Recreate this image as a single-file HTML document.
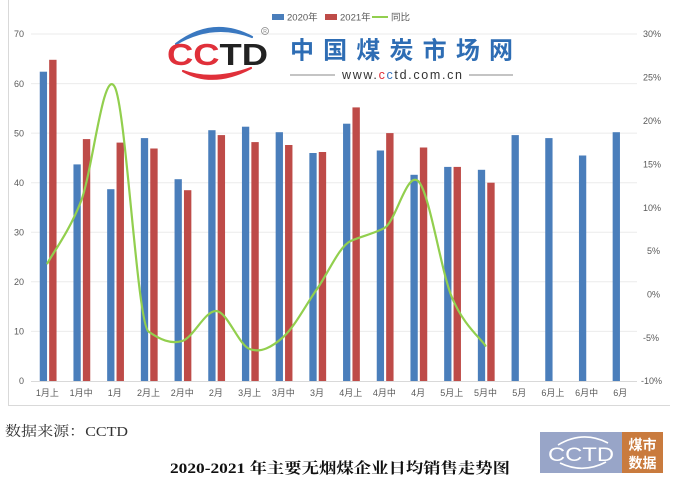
<!DOCTYPE html>
<html><head><meta charset="utf-8"><style>
html,body{margin:0;padding:0;background:#fff;}
svg{display:block;}
</style></head><body>
<svg width="676" height="482" viewBox="0 0 676 482" xmlns="http://www.w3.org/2000/svg">
<rect x="0" y="0" width="676" height="482" fill="#fff"/>
<!-- frame -->
<line x1="8.5" y1="0" x2="8.5" y2="405.5" stroke="#D9D9D9" stroke-width="1"/>
<line x1="8" y1="405.5" x2="670" y2="405.5" stroke="#D9D9D9" stroke-width="1"/>
<!-- grid -->
<g stroke="#EBEBEB" stroke-width="1">
<line x1="31" y1="34" x2="637" y2="34"/>
<line x1="31" y1="83.6" x2="637" y2="83.6"/>
<line x1="31" y1="133.1" x2="637" y2="133.1"/>
<line x1="31" y1="182.7" x2="637" y2="182.7"/>
<line x1="31" y1="232.3" x2="637" y2="232.3"/>
<line x1="31" y1="281.8" x2="637" y2="281.8"/>
<line x1="31" y1="331.4" x2="637" y2="331.4"/>
</g>
<line x1="31" y1="381.5" x2="637" y2="381.5" stroke="#D9D9D9" stroke-width="1"/>
<!-- left axis labels -->
<g font-family="Liberation Sans, sans-serif" font-size="9" fill="#595959" text-anchor="end">
<text x="24" y="37.2">70</text>
<text x="24" y="86.8">60</text>
<text x="24" y="136.3">50</text>
<text x="24" y="185.9">40</text>
<text x="24" y="235.5">30</text>
<text x="24" y="285">20</text>
<text x="24" y="334.6">10</text>
<text x="24" y="384.2">0</text>
</g>
<!-- right axis labels -->
<g font-family="Liberation Sans, sans-serif" font-size="9" fill="#595959" text-anchor="start">
<text x="643" y="37.2">30%</text>
<text x="643" y="80.6">25%</text>
<text x="643" y="124">20%</text>
<text x="643" y="167.4">15%</text>
<text x="643" y="210.8">10%</text>
<text x="647" y="254.2">5%</text>
<text x="647" y="297.6">0%</text>
<text x="643" y="341">-5%</text>
<text x="641" y="384.2">-10%</text>
</g>
<!-- bars 2020 -->
<g fill="#4A7EBB">
<rect x="39.75" y="71.7" width="7.3" height="309.3"/>
<rect x="73.45" y="164.4" width="7.3" height="216.6"/>
<rect x="107.15" y="189.2" width="7.3" height="191.8"/>
<rect x="140.85" y="138.1" width="7.3" height="242.9"/>
<rect x="174.55" y="179.2" width="7.3" height="201.8"/>
<rect x="208.25" y="130.2" width="7.3" height="250.8"/>
<rect x="241.95" y="126.7" width="7.3" height="254.3"/>
<rect x="275.65" y="132.2" width="7.3" height="248.8"/>
<rect x="309.35" y="153" width="7.3" height="228"/>
<rect x="343.05" y="123.7" width="7.3" height="257.3"/>
<rect x="376.75" y="150.5" width="7.3" height="230.5"/>
<rect x="410.45" y="174.8" width="7.3" height="206.2"/>
<rect x="444.15" y="166.9" width="7.3" height="214.1"/>
<rect x="477.85" y="169.8" width="7.3" height="211.2"/>
<rect x="511.55" y="135.1" width="7.3" height="245.9"/>
<rect x="545.25" y="138.1" width="7.3" height="242.9"/>
<rect x="578.95" y="155.5" width="7.3" height="225.5"/>
<rect x="612.65" y="132.2" width="7.3" height="248.8"/>
</g>
<!-- bars 2021 -->
<g fill="#BE4B48">
<rect x="49.15" y="59.8" width="7.4" height="321.2"/>
<rect x="82.85" y="139.1" width="7.4" height="241.9"/>
<rect x="116.55" y="142.6" width="7.4" height="238.4"/>
<rect x="150.25" y="148.5" width="7.4" height="232.5"/>
<rect x="183.95" y="190.2" width="7.4" height="190.8"/>
<rect x="217.65" y="135.1" width="7.4" height="245.9"/>
<rect x="251.35" y="142.1" width="7.4" height="238.9"/>
<rect x="285.05" y="145" width="7.4" height="236"/>
<rect x="318.75" y="152" width="7.4" height="229"/>
<rect x="352.45" y="107.4" width="7.4" height="273.6"/>
<rect x="386.15" y="133.1" width="7.4" height="247.9"/>
<rect x="419.85" y="147.5" width="7.4" height="233.5"/>
<rect x="453.55" y="166.9" width="7.4" height="214.1"/>
<rect x="487.25" y="182.7" width="7.4" height="198.3"/>
</g>
<!-- line -->
<path fill="none" stroke="#92CF4E" stroke-width="2.2" stroke-linejoin="round" stroke-linecap="round" d="
M47.4,263.3
C53,252.9 69.87,230.38 81.1,201
C92.33,171.62 103.57,65.25 114.8,87
C126.03,108.75 137.27,323.5 148.5,331.5
C159.73,339.5 170.97,344.42 182.2,341
C193.43,337.58 204.67,311 215.9,311
C227.13,311 238.37,344.67 249.6,349
C260.83,353.33 272.07,347 283.3,337
C294.53,327 305.77,305 317,289
C328.23,273 339.47,246 350.7,241
C361.93,236 373.17,234 384.4,228
C395.63,222 406.87,171 418.1,181
C429.33,191 440.57,269.55 451.8,297
C463.03,324.45 479.88,337.58 485.5,345.7"/>
<!-- category labels -->
<g font-family="Liberation Sans, 'Noto Sans CJK SC', sans-serif" font-size="9" fill="#595959" text-anchor="middle">
<text x="47.4" y="396">1月上</text>
<text x="81.1" y="396">1月中</text>
<text x="114.8" y="396">1月</text>
<text x="148.5" y="396">2月上</text>
<text x="182.2" y="396">2月中</text>
<text x="215.9" y="396">2月</text>
<text x="249.6" y="396">3月上</text>
<text x="283.3" y="396">3月中</text>
<text x="317" y="396">3月</text>
<text x="350.7" y="396">4月上</text>
<text x="384.4" y="396">4月中</text>
<text x="418.1" y="396">4月</text>
<text x="451.8" y="396">5月上</text>
<text x="485.5" y="396">5月中</text>
<text x="519.2" y="396">5月</text>
<text x="552.9" y="396">6月上</text>
<text x="586.6" y="396">6月中</text>
<text x="620.3" y="396">6月</text>
</g>
<!-- legend -->
<rect x="272" y="14" width="12" height="6" fill="#4A7EBB"/>
<text x="287" y="20.5" font-family="Liberation Sans, 'Noto Sans CJK SC', sans-serif" font-size="9.5" fill="#595959">2020年</text>
<rect x="325" y="14" width="12" height="6" fill="#BE4B48"/>
<text x="340" y="20.5" font-family="Liberation Sans, 'Noto Sans CJK SC', sans-serif" font-size="9.5" fill="#595959">2021年</text>
<line x1="372" y1="17" x2="388" y2="17" stroke="#92CF4E" stroke-width="2"/>
<text x="391" y="20.5" font-family="Liberation Sans, 'Noto Sans CJK SC', sans-serif" font-size="9.5" fill="#595959">同比</text>
<!-- CCTD logo -->
<path d="M176,44 Q213,16 252,37 Q213,22 176,44 Z" fill="#3A78C0" stroke="#3A78C0" stroke-width="2.2" stroke-linejoin="round"/>
<path d="M183,71 Q213,88 251,68 Q213,82 183,71 Z" fill="#E0303A" stroke="#E0303A" stroke-width="2.2" stroke-linejoin="round"/>
<text x="167" y="65" font-family="Liberation Sans, sans-serif" font-size="31" font-weight="bold" textLength="101" lengthAdjust="spacingAndGlyphs"><tspan fill="#E0303A">CC</tspan><tspan fill="#222">TD</tspan></text>
<circle cx="265" cy="31" r="3.5" fill="none" stroke="#888" stroke-width="0.8"/>
<text x="265" y="33" font-family="Liberation Sans, sans-serif" font-size="5" fill="#888" text-anchor="middle">R</text>
<text x="290" y="58.5" font-family="'Noto Sans CJK SC', sans-serif" font-size="24" font-weight="bold" fill="#2E6DB4" textLength="223" lengthAdjust="spacing">中国煤炭市场网</text>
<line x1="290" y1="75" x2="335" y2="75" stroke="#8A8A8A" stroke-width="1"/>
<line x1="469" y1="75" x2="513" y2="75" stroke="#8A8A8A" stroke-width="1"/>
<text x="342" y="79" font-family="Liberation Sans, sans-serif" font-size="12.5" fill="#333" textLength="120" lengthAdjust="spacing">www.<tspan fill="#E0303A">c</tspan><tspan fill="#3A78C0">c</tspan>td.com.cn</text>
<!-- source -->
<text x="5" y="436" font-family="'Liberation Serif', 'Noto Serif CJK SC', serif" font-size="14" fill="#333" textLength="123" lengthAdjust="spacingAndGlyphs">数据来源：CCTD</text>
<!-- title -->
<text x="170" y="473" font-family="'Liberation Serif', 'Noto Serif CJK SC', serif" font-size="15" font-weight="bold" fill="#111" textLength="340" lengthAdjust="spacingAndGlyphs">2020-2021 年主要无烟煤企业日均销售走势图</text>
<!-- bottom logo -->
<rect x="540" y="432" width="82" height="41" fill="#98A5C8"/>
<rect x="622" y="432" width="41" height="41" fill="#C97B3E"/>
<path d="M558,445 Q583,430 608,443" fill="none" stroke="#fff" stroke-width="1.6"/>
<path d="M560,463 Q583,474 606,462" fill="none" stroke="#fff" stroke-width="1.6"/>
<text x="548" y="461" font-family="Liberation Sans, sans-serif" font-size="19" fill="#fff" textLength="66" lengthAdjust="spacingAndGlyphs">CCTD</text>
<text x="642.5" y="450" font-family="'Noto Sans CJK SC', sans-serif" font-size="14" font-weight="bold" fill="#fff" text-anchor="middle">煤市</text>
<text x="642.5" y="468" font-family="'Noto Sans CJK SC', sans-serif" font-size="14" font-weight="bold" fill="#fff" text-anchor="middle">数据</text>
</svg>
</body></html>
